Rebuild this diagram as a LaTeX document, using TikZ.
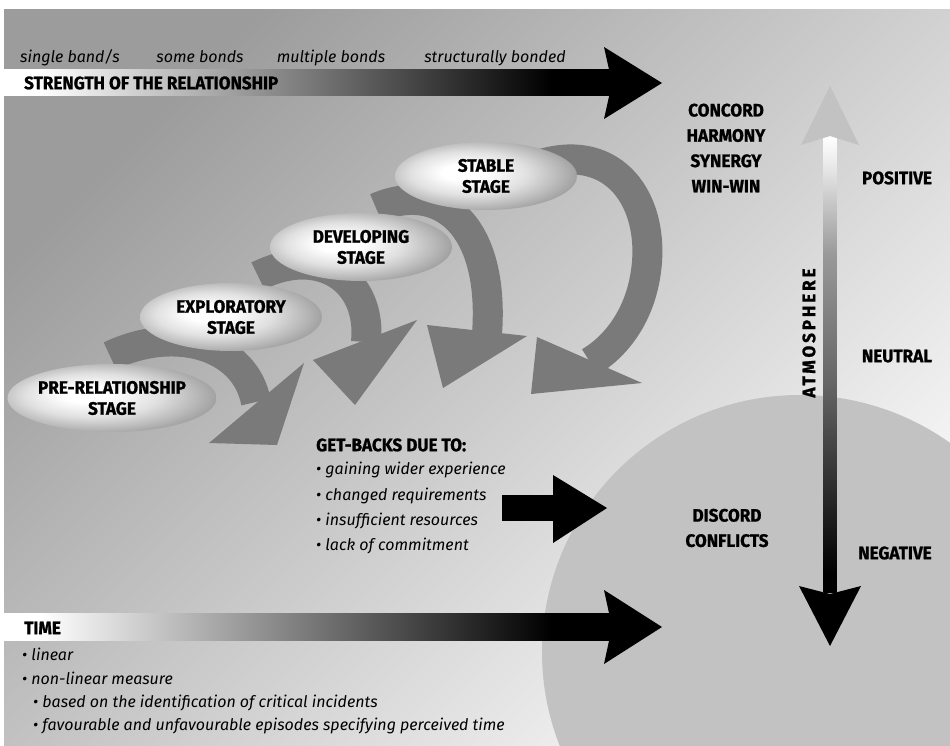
\documentclass[tikz,border=0pt]{standalone}
\usepackage{fontspec}
\setmainfont{Fira Sans}
\newfontfamily\headfont[FakeStretch=0.95, BoldFeatures={FakeBold=1}]{Fira Sans}
\newfontfamily\notefont{Fira Sans}
\usetikzlibrary{shapes.geometric}

\definecolor{bgdark}{gray}{0.61}
\definecolor{bglight}{gray}{0.97}
\definecolor{discgray}{gray}{0.76}
\definecolor{ribbongray}{gray}{0.48}
\definecolor{upgray}{gray}{0.76}

% white on the left fading to black on the right
\pgfdeclarehorizontalshading{bandshade}{100bp}{color(0bp)=(white); color(28bp)=(white); color(70bp)=(black); color(100bp)=(black)}
% light at the top fading to black at the bottom
\pgfdeclareverticalshading{atmshade}{100bp}{color(0bp)=(black); color(27bp)=(black); color(35bp)=(black!85); color(48bp)=(black!60); color(62bp)=(black!40); color(72bp)=(black!8); color(75bp)=(white); color(100bp)=(white)}
% glossy oval, highlight left of centre
\pgfdeclareradialshading{ovalshade}{\pgfpoint{-7bp}{3bp}}{color(0bp)=(white); color(6bp)=(white); color(16bp)=(black!12); color(24bp)=(black!28); color(32bp)=(black!45); color(50bp)=(black!45)}

\begin{document}
\begin{tikzpicture}[x=1pt,y=-1pt,
  capslabel/.style={font=\headfont\bfseries\fontsize{18}{21}\selectfont, inner sep=0pt, text height=12.4pt, text depth=0pt},
  stacklabel/.style={font=\headfont\bfseries\fontsize{18}{25.3}\selectfont, inner sep=0pt, align=center},
  notelabel/.style={font=\notefont\itshape\fontsize{16}{19}\selectfont, inner sep=0pt, text height=9.5pt, text depth=0pt},
  stageoval/.style={ellipse, shading=ovalshade, minimum width=182pt, minimum height=68pt, inner sep=0pt, align=center, font=\headfont\bfseries\fontsize{18}{21}\selectfont},
  ribbon/.style={draw=ribbongray, line width=30pt},
  ribbonhead/.style={fill=ribbongray},
  solidhead/.style={fill=black},
]
\useasboundingbox (0,0) rectangle (950,746);
\fill[white] (0,0) rectangle (950,746);

% background and the discord disc
\shade[top color=bgdark, bottom color=bglight, shading angle=45] (4,10) rectangle (950,746);
\begin{scope}
  \clip (4,10) rectangle (950,746);
  \fill[discgray] (800,652) ellipse [x radius=258, y radius=257];
\end{scope}

% strength of the relationship axis
\shade[shading=bandshade] (4,70) rectangle (612,96);
\fill[solidhead] (604,47) -- (662,83) -- (604,119) -- (612,83) -- cycle;
\node[notelabel] (bond1) at (70,58) {single band/s};
\node[notelabel] (bond2) at (200,58) {some bonds};
\node[notelabel] (bond3) at (331,58) {multiple bonds};
\node[notelabel] (bond4) at (495,58) {structurally bonded};
\node[capslabel, anchor=west] (strength) at (24,83) {STRENGTH OF THE RELATIONSHIP};

% time axis
\shade[shading=bandshade] (4,613) rectangle (612,640);
\fill[solidhead] (604,590) -- (662,627) -- (604,664) -- (612,627) -- cycle;
\node[capslabel, anchor=west] (time) at (24,628) {TIME};
\node[notelabel, anchor=west] (t1) at (22,656) {\textbullet\ linear};
\node[notelabel, anchor=west] (t2) at (22,680) {\textbullet\ non-linear measure};
\node[notelabel, anchor=west] (t3) at (33,703) {\textbullet\ based on the identification of critical incidents};
\node[notelabel, anchor=west] (t4) at (33,726) {\textbullet\ favourable and unfavourable episodes specifying perceived time};

% get-back ribbons, one per stage
\draw[ribbon] (110,356) .. controls (175,325) and (245,345) .. (256,402);
\fill[ribbonhead] (209,443) -- (304,363) -- (277,445) -- cycle;
\draw[ribbon] (258,276) .. controls (320,245) and (372,280) .. (366,342);
\fill[ribbonhead] (313,360) -- (417,320) -- (355,405) -- cycle;
\draw[ribbon] (376,208) .. controls (440,180) and (495,225) .. (487,334);
\fill[ribbonhead] (427,325) -- (527,336) -- (443,388) -- cycle;
\draw[ribbon] (535,166) .. controls (610,140) and (652,195) .. (647,262) .. controls (643,312) and (618,345) .. (590,362);
\fill[ribbonhead] (537,337) -- (642,383) -- (531,394) -- cycle;

% relationship stages
\node[stageoval] (stable) at (486,176) {STABLE\\STAGE};
\node[stageoval] (developing) at (361,247) {DEVELOPING\\STAGE};
\node[stageoval] (exploratory) at (231,317) {EXPLORATORY\\STAGE};
\node[stageoval] (prerel) at (112,398) {PRE-RELATIONSHIP\\STAGE};

% get-backs
\node[capslabel, anchor=west] (getbacks) at (316,445) {GET-BACKS DUE TO:};
\node[notelabel, anchor=west] (gb1) at (316,470) {\textbullet\ gaining wider experience};
\node[notelabel, anchor=west] (gb2) at (316,496) {\textbullet\ changed requirements};
\node[notelabel, anchor=west] (gb3) at (316,521) {\textbullet\ insufficient resources};
\node[notelabel, anchor=west] (gb4) at (316,546) {\textbullet\ lack of commitment};
\fill[solidhead] (502,495) rectangle (556,521);
\fill[solidhead] (553,475) -- (607,508) -- (553,543) -- cycle;

% atmosphere scale
\shade[shading=atmshade] (823.5,136) rectangle (836.5,592);
\fill[upgray] (830,86) -- (859,145) -- (830,136) -- (801,145) -- cycle;
\fill[solidhead] (830,646) -- (861,586) -- (830,594) -- (799,586) -- cycle;
\node[capslabel, rotate=90, font=\headfont\bfseries\fontsize{18}{21}\selectfont\addfontfeatures{LetterSpace=16}] (atmosphere) at (809,333) {ATMOSPHERE};

\node[stacklabel] (moods) at (726,148) {CONCORD\\HARMONY\\SYNERGY\\WIN-WIN};
\node[capslabel] (positive) at (897,178) {POSITIVE};
\node[capslabel] (neutral) at (897,356) {NEUTRAL};
\node[capslabel] (negative) at (895,553) {NEGATIVE};
\node[stacklabel] (discord) at (727,528) {DISCORD\\CONFLICTS};
\end{tikzpicture}
\end{document}
